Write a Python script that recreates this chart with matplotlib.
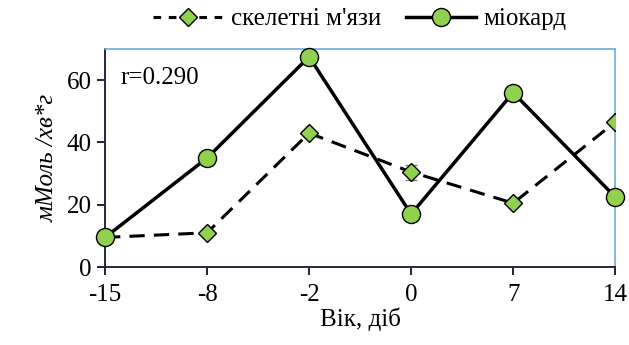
import matplotlib
matplotlib.use("Agg")
import matplotlib.pyplot as plt
from matplotlib.lines import Line2D

# Data
ages = ["-15", "-8", "-2", "0", "7", "14"]
skeletal = [9.5, 11.0, 43.0, 30.5, 20.5, 46.5]
skeletal_err = [0, 0, 0, 2.4, 0, 0]
myocard = [9.5, 35.0, 67.5, 17.0, 56.0, 22.5]

plt.rcParams['font.family'] = ['Liberation Serif', 'DejaVu Serif']

green = '#92D050'
fig = plt.figure(figsize=(6.29, 3.45), dpi=100)
ax = fig.add_axes([0.167, 0.226, 0.811, 0.632])

x = list(range(len(ages)))
ax.errorbar(x, skeletal, yerr=skeletal_err, fmt='none', ecolor='#7f7f7f',
            elinewidth=1, capsize=4, zorder=2)
ax.plot(x, skeletal, color='black', lw=2.2, dashes=(5, 3), marker='D', ms=9,
        mfc=green, mec='black', mew=1.0, zorder=3)
ax.plot(x, myocard, color='black', lw=2.5, marker='o', ms=13, mfc=green,
        mec='black', mew=1.0, zorder=4, clip_on=False)

ax.set_xlim(0, len(ages) - 1)
ax.set_ylim(0, 70)
ax.set_xticks(x)
ax.set_xticklabels(ages)
ax.set_yticks([0, 20, 40, 60])
ax.tick_params(axis='both', labelsize=18, direction='out', length=6, width=1.2, colors='black')
ax.tick_params(axis='x', pad=6)

for side in ['left', 'bottom']:
    ax.spines[side].set_color('#1f2a38')
    ax.spines[side].set_linewidth(1.4)
for side in ['top', 'right']:
    ax.spines[side].set_color('#6fa8dc')
    ax.spines[side].set_linewidth(1.2)

ax.set_xlabel('Вік, діб', fontsize=18, labelpad=1)
ax.set_ylabel('мМоль /хв*г', fontsize=18, style='italic', labelpad=6)
ax.text(0.03, 0.84, 'r=0.290', transform=ax.transAxes, fontsize=18)

handles = [
    Line2D([], [], color='black', lw=2.2, dashes=(2.5, 2.5), marker='D', ms=9,
           mfc=green, mec='black', mew=1.0),
    Line2D([], [], color='black', lw=2.5, marker='o', ms=13, mfc=green,
           mec='black', mew=1.0),
]
ax.legend(handles, ["скелетні м'язи", 'міокард'], loc='lower center',
          bbox_to_anchor=(0.5, 1.04), ncol=2, frameon=False, fontsize=18,
          handlelength=2.8, columnspacing=1.0, handletextpad=0.3, borderaxespad=0)

fig.savefig('out.png', dpi=100, facecolor='white')
